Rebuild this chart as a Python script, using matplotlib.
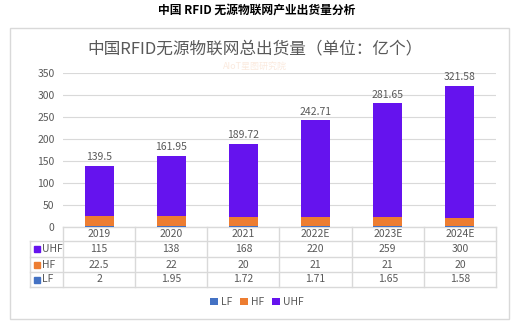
import matplotlib.pyplot as plt
import matplotlib.transforms as mtransforms
from matplotlib.patches import Rectangle

plt.rcParams['font.family'] = ['Noto Sans CJK SC', 'DejaVu Sans']

# Data
years = ['2019', '2020', '2021', '2022E', '2023E', '2024E']
uhf = [115, 138, 168, 220, 259, 300]
hf = [22.5, 22, 20, 21, 21, 20]
lf = [2, 1.95, 1.72, 1.71, 1.65, 1.58]
uhf_txt = ['115', '138', '168', '220', '259', '300']
hf_txt = ['22.5', '22', '20', '21', '21', '20']
lf_txt = ['2', '1.95', '1.72', '1.71', '1.65', '1.58']

c_uhf = '#6513EE'
c_hf = '#ED7D31'
c_lf = '#4472C4'
grey = '#595959'
line_c = '#D9D9D9'

fig = plt.figure(figsize=(5.14, 3.24), dpi=100)
fig.patch.set_facecolor('white')

# outer frame
fig.add_artist(Rectangle((10 / 514, 1 - 319 / 324), 499 / 514, 291 / 324,
                         transform=fig.transFigure, fill=False,
                         edgecolor='#D9D9D9', linewidth=1))

fig.text(0.5, 1 - 10 / 324, '中国 RFID 无源物联网产业出货量分析', ha='center', va='center',
         fontsize=8.5, fontweight='bold', color='black')
fig.text(255 / 514, 1 - 49 / 324, '中国RFID无源物联网总出货量（单位：亿个）', ha='center',
         va='center', fontsize=12, color=grey)

# faint watermark
fig.text(255 / 514, 1 - 66 / 324, 'AIoT星图研究院', ha='center', va='center',
         fontsize=6.5, color='#F8DCC8', alpha=0.6, zorder=0)

ax = fig.add_axes([63 / 514, 1 - 227 / 324, 433 / 514, 154 / 324])
x = list(range(len(years)))
w = 0.4
ax.bar(x, lf, w, color=c_lf, label='LF', zorder=3)
ax.bar(x, hf, w, bottom=lf, color=c_hf, label='HF', zorder=3)
bottoms = [a + b for a, b in zip(lf, hf)]
ax.bar(x, uhf, w, bottom=bottoms, color=c_uhf, label='UHF', zorder=3)

totals = [round(a + b + c, 2) for a, b, c in zip(lf, hf, uhf)]
for xi, t in zip(x, totals):
    ax.text(xi, t + 8, f'{t:g}', ha='center', va='bottom', fontsize=7.5, color=grey)

ax.set_xlim(-0.5, len(years) - 0.5)
ax.set_ylim(0, 350)
ax.set_yticks(range(0, 351, 50))
ax.tick_params(axis='y', length=0, labelsize=7.5, labelcolor=grey, pad=6)
ax.set_xticks([])
ax.grid(axis='y', color=line_c, linewidth=0.8, zorder=0)
for s in ax.spines.values():
    s.set_visible(False)
ax.set_facecolor('none')

# data table below the axes
trans = mtransforms.blended_transform_factory(ax.transData, ax.transAxes)
px = 1 / 154
rows_y = [0, -14 * px, -30 * px, -45 * px, -60 * px]
left = -0.5 - 33 / 72.2
right = len(years) - 0.5
# horizontal lines
ax.plot([-0.5, right], [0, 0], color=line_c, lw=1, transform=trans, clip_on=False)
for ry in rows_y[1:]:
    ax.plot([left, right], [ry, ry], color=line_c, lw=1, transform=trans, clip_on=False)
# vertical lines
ax.plot([left, left], [rows_y[1], rows_y[-1]], color=line_c, lw=1, transform=trans, clip_on=False)
for i in range(len(years) + 1):
    ax.plot([i - 0.5, i - 0.5], [0, rows_y[-1]], color=line_c, lw=1, transform=trans,
            clip_on=False)

for i, yr in enumerate(years):
    ax.text(i, (rows_y[0] + rows_y[1]) / 2, yr, ha='center', va='center', fontsize=7.5,
            color=grey, transform=trans)
table_rows = [('UHF', c_uhf, uhf_txt), ('HF', c_hf, hf_txt), ('LF', c_lf, lf_txt)]
for r, (name, col, vals) in enumerate(table_rows):
    yc = (rows_y[r + 1] + rows_y[r + 2]) / 2
    ax.plot([left + 0.1], [yc], marker='s', ms=4, color=col, transform=trans, clip_on=False)
    ax.text(left + 0.17, yc, name, ha='left', va='center', fontsize=7.5, color=grey,
            transform=trans)
    for i, v in enumerate(vals):
        ax.text(i, yc, v, ha='center', va='center', fontsize=7.5, color=grey, transform=trans)

leg = fig.legend(loc='center', bbox_to_anchor=(257 / 514, 1 - 302 / 324), ncol=3,
                 frameon=False, fontsize=7.5, handlelength=0.7, handleheight=0.7,
                 handletextpad=0.3, columnspacing=0.8)
for t in leg.get_texts():
    t.set_color(grey)

fig.savefig('out.png', dpi=100)
